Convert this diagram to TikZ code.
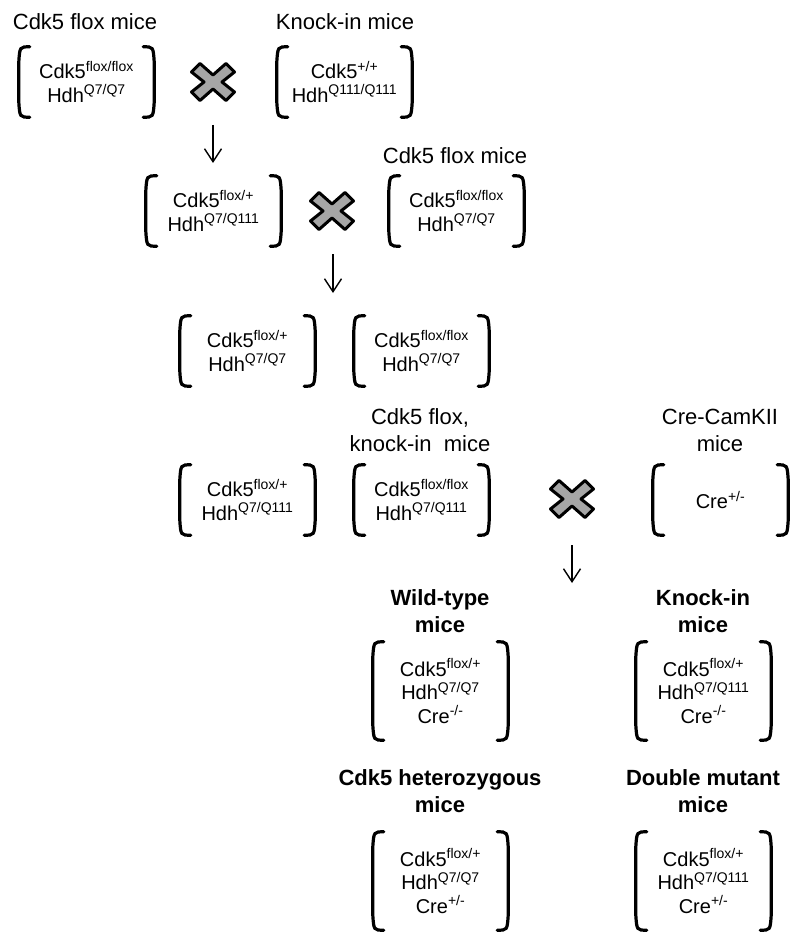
\documentclass[tikz,border=0pt]{standalone}
\usepackage{fontspec}
\setmainfont{Liberation Sans}
\usetikzlibrary{arrows.meta}

\definecolor{crossgray}{HTML}{A6A6A6}

\begin{document}
\begin{tikzpicture}[x=1pt, y=-1pt,
		title/.style={align=center, inner sep=0, font=\fontsize{22}{27}\selectfont},
		offspring/.style={align=center, inner sep=0, font=\fontsize{22}{27}\selectfont\bfseries},
		geno/.style={align=center, inner sep=0, minimum width=135, minimum height=70,
			font=\fontsize{20}{23.5}\selectfont},
		tall/.style={minimum height=98},
		brk/.style={line width=3.2, line cap=round},
		fall/.style={-{Straight Barb[length=13pt, width=17pt]}, line width=1.4},
		mate/.style={minimum width=50, minimum height=44, inner sep=0,
			path picture={\draw[line width=3, fill=crossgray, line join=round,
				shift={(path picture bounding box.center)}]
				(0,-7) -- (13,-18.5) -- (21.5,-10) -- (9,0) -- (21.5,10) -- (13,18.5)
				-- (0,7) -- (-13,18.5) -- (-21.5,10) -- (-9,0) -- (-21.5,-10) -- (-13,-18.5) -- cycle;}}]
	\useasboundingbox (0,0) rectangle (790,933);

	% parents
	\node[title] (t1) at (85,22) {Cdk5 flox mice};
	\node[title] (t2) at (345,22) {Knock-in mice};
	\node[title] (t3) at (455,156) {Cdk5 flox mice};
	\node[title] (t4) at (420,430) {Cdk5 flox,\\knock-in\ \ mice};
	\node[title] (t5) at (720,430) {Cre-CamKII\\mice};
	% offspring
	\node[offspring] (t6) at (440,611) {Wild-type\\mice};
	\node[offspring] (t7) at (703,611) {Knock-in\\mice};
	\node[offspring] (t8) at (440,791) {Cdk5 heterozygous\\mice};
	\node[offspring] (t9) at (703,791) {Double mutant\\mice};

	\begin{scope}[every node/.append style={geno}]
		\node (b1) at (86.5,82) {Cdk5\textsuperscript{flox/flox}\\Hdh\textsuperscript{Q7/Q7}};
		\node (b2) at (344.5,82) {Cdk5\textsuperscript{+/+}\\Hdh\textsuperscript{Q111/Q111}};
		\node (b3) at (213.5,211) {Cdk5\textsuperscript{flox/+}\\Hdh\textsuperscript{Q7/Q111}};
		\node (b4) at (456.5,211) {Cdk5\textsuperscript{flox/flox}\\Hdh\textsuperscript{Q7/Q7}};
		\node (b5) at (247.5,351) {Cdk5\textsuperscript{flox/+}\\Hdh\textsuperscript{Q7/Q7}};
		\node (b6) at (421.5,351) {Cdk5\textsuperscript{flox/flox}\\Hdh\textsuperscript{Q7/Q7}};
		\node (b7) at (247.5,500) {Cdk5\textsuperscript{flox/+}\\Hdh\textsuperscript{Q7/Q111}};
		\node (b8) at (421.5,500) {Cdk5\textsuperscript{flox/flox}\\Hdh\textsuperscript{Q7/Q111}};
		\node (b9) at (720.5,500) {Cre\textsuperscript{+/-}};
		\node[tall] (b10) at (440.5,691) {Cdk5\textsuperscript{flox/+}\\Hdh\textsuperscript{Q7/Q7}\\Cre\textsuperscript{-/-}};
		\node[tall] (b11) at (703.5,691) {Cdk5\textsuperscript{flox/+}\\Hdh\textsuperscript{Q7/Q111}\\Cre\textsuperscript{-/-}};
		\node[tall] (b12) at (440.5,881) {Cdk5\textsuperscript{flox/+}\\Hdh\textsuperscript{Q7/Q7}\\Cre\textsuperscript{+/-}};
		\node[tall] (b13) at (703.5,881) {Cdk5\textsuperscript{flox/+}\\Hdh\textsuperscript{Q7/Q111}\\Cre\textsuperscript{+/-}};
	\end{scope}

	% brackets round every genotype
	\foreach \b in {b1,b2,b3,b4,b5,b6,b7,b8,b9,b10,b11,b12,b13} {
		\draw[brk] ([xshift=11pt]\b.north west) .. controls ([xshift=1pt]\b.north west) .. ([yshift=-15pt]\b.north west)
			-- ([yshift=15pt]\b.south west) .. controls ([xshift=1pt]\b.south west) .. ([xshift=11pt]\b.south west);
		\draw[brk] ([xshift=-11pt]\b.north east) .. controls ([xshift=-1pt]\b.north east) .. ([yshift=-15pt]\b.north east)
			-- ([yshift=15pt]\b.south east) .. controls ([xshift=-1pt]\b.south east) .. ([xshift=-11pt]\b.south east);
	}

	% crosses
	\node[mate] (x1) at (213,82) {};
	\node[mate] (x2) at (332,211) {};
	\node[mate] (x3) at (572,499) {};

	% arrows
	\coordinate (a1) at (213,125);
	\coordinate (e1) at (213,163);
	\coordinate (a2) at (333,254);
	\coordinate (e2) at (333,293);
	\coordinate (a3) at (572,545);
	\coordinate (e3) at (572,583);
	\draw[fall] (a1) -- (e1);
	\draw[fall] (a2) -- (e2);
	\draw[fall] (a3) -- (e3);
\end{tikzpicture}
\end{document}
